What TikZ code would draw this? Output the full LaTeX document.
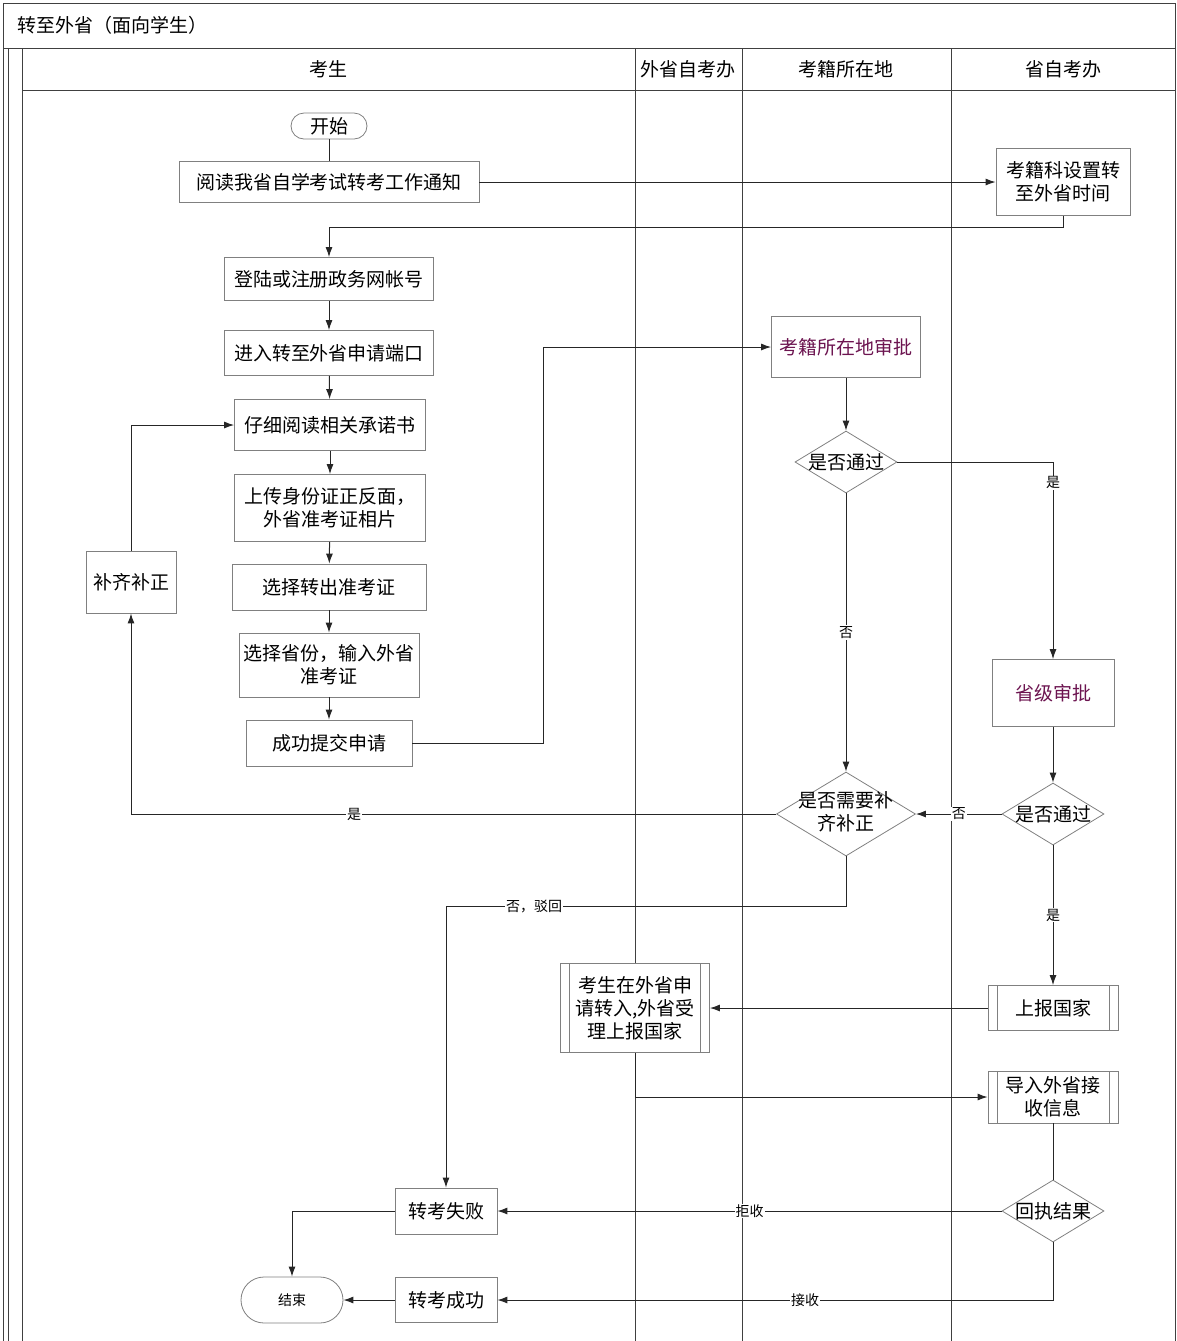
\documentclass[tikz,border=0pt]{standalone}
\usepackage{fontspec}
\setmainfont{Noto Sans CJK SC}
\usepackage{xcolor}
\usepackage{tikz}
\usetikzlibrary{arrows.meta, shapes.geometric}
\definecolor{auditpurple}{RGB}{108,20,80}

\begin{document}
\begin{tikzpicture}[
        x=0.5pt, y=-0.5pt,
        txt/.style={font=\fontsize{9.5pt}{11.5pt}\selectfont},
        cell/.style={draw=black!50, rectangle, align=center, fill=white, inner sep=1pt, txt},
        term/.style={cell, rounded corners=6.5pt},
        predef/.style={cell, path picture={
            \draw[black!50] ([xshift=4.5pt]path picture bounding box.north west) -- ([xshift=4.5pt]path picture bounding box.south west);
            \draw[black!50] ([xshift=-4.5pt]path picture bounding box.north east) -- ([xshift=-4.5pt]path picture bounding box.south east);}},
        decision/.style={diamond, draw=black!50, fill=white, inner sep=0pt, txt},
        lbl/.style={fill=white, inner sep=0.5pt, font=\fontsize{7pt}{8pt}\selectfont},
        pool/.style={draw=black!75, line width=0.5pt},
        line/.style={draw=black!85, line width=0.5pt},
        arrow/.style={line, -{Latex[length=5pt, width=3.5pt]}}
    ]
        \useasboundingbox (0,0) rectangle (1177,1341);

        % pool and lanes
        \draw[pool] (3,1341) -- (3,3) -- (1175,3) -- (1175,1341);
        \draw[pool] (3,48) -- (1175,48);
        \draw[pool] (8,48) -- (8,1341);
        \draw[pool] (22,48) -- (22,1341);
        \draw[pool] (22,90) -- (1175,90);
        \foreach \x in {635,742,951}
            \draw[pool] (\x,48) -- (\x,1341);

        \node[txt, anchor=west] (title) at (10,25) {转至外省（面向学生）};
        \node[txt] (laneStudent) at (328,69) {考生};
        \node[txt] (laneOther) at (688,69) {外省自考办};
        \node[txt] (laneLocal) at (846,69) {考籍所在地};
        \node[txt] (laneProv) at (1063,69) {省自考办};

        % student lane
        \node[term, minimum width=38pt, minimum height=13pt] (start) at (329,126) {开始};
        \node[cell, minimum width=150pt, minimum height=20.5pt] (read) at (329,182) {阅读我省自学考试转考工作通知};
        \node[cell, minimum width=104.5pt, minimum height=21.5pt] (login) at (329,279) {登陆或注册政务网帐号};
        \node[cell, minimum width=104.5pt, minimum height=22.5pt] (enter) at (329,353) {进入转至外省申请端口};
        \node[cell, minimum width=95.5pt, minimum height=25.5pt] (promise) at (330,425) {仔细阅读相关承诺书};
        \node[cell, minimum width=95.5pt, minimum height=33.5pt] (upload) at (330,508) {上传身份证正反面，\\外省准考证相片};
        \node[cell, minimum width=97pt, minimum height=23pt] (choose) at (329,587) {选择转出准考证};
        \node[cell, minimum width=90pt, minimum height=32pt] (province) at (329,665) {选择省份，输入外省\\准考证};
        \node[cell, minimum width=83pt, minimum height=23pt] (submit) at (329,743) {成功提交申请};
        \node[cell, minimum width=45pt, minimum height=31pt] (fix) at (131,582) {补齐补正};
        \node[cell, minimum width=51pt, minimum height=23pt] (fail) at (446,1211) {转考失败};
        \node[cell, minimum width=51pt, minimum height=22.5pt] (success) at (446,1300) {转考成功};
        \node[term, rounded corners=11.5pt, minimum width=51pt, minimum height=23pt, font=\fontsize{7pt}{8pt}\selectfont] (end) at (292,1300) {结束};

        % other province lane
        \node[predef, minimum width=74.5pt, minimum height=44.5pt] (accept) at (635,1008) {考生在外省申\\请转入,外省受\\理上报国家};

        % local lane
        \node[cell, minimum width=74.5pt, minimum height=30.5pt, text=auditpurple] (localAudit) at (846,347) {考籍所在地审批};
        \node[decision, minimum width=51pt, minimum height=31pt] (passLocal) at (846,462) {\makebox[0pt]{是否通过}};
        \node[decision, minimum width=69.5pt, minimum height=42pt] (need) at (846,814) {\makebox[0pt]{\begin{tabular}{@{}c@{}}是否需要补\\齐补正\end{tabular}}};

        % province lane
        \node[cell, minimum width=67pt, minimum height=33.5pt] (setTime) at (1063,182) {考籍科设置转\\至外省时间};
        \node[cell, minimum width=61pt, minimum height=33.5pt, text=auditpurple] (provAudit) at (1053,693) {省级审批};
        \node[decision, minimum width=51pt, minimum height=31pt] (passProv) at (1053,814) {\makebox[0pt]{是否通过}};
        \node[predef, minimum width=65pt, minimum height=22.5pt] (report) at (1053,1008) {上报国家};
        \node[predef, minimum width=65pt, minimum height=26pt] (import) at (1053,1097) {导入外省接\\收信息};
        \node[decision, minimum width=51pt, minimum height=31pt] (receipt) at (1053,1211) {\makebox[0pt]{回执结果}};

        % connectors
        \draw[line] (start) -- (read);
        \draw[arrow] (read) -- (setTime);
        \draw[arrow] (setTime.south) -- ++(0,12) -| (login.north);
        \draw[arrow] (login) -- (enter);
        \draw[arrow] (enter) -- (promise);
        \draw[arrow] (promise) -- (upload);
        \draw[arrow] (upload) -- (choose);
        \draw[arrow] (choose) -- (province);
        \draw[arrow] (province) -- (submit);
        \draw[arrow] (submit.east) -- ++(131,0) |- (localAudit.west);
        \draw[arrow] (fix.north) |- (promise.west);
        \draw[arrow] (localAudit) -- (passLocal);
        \draw[arrow] (passLocal.east) -| node[lbl, pos=0.553] {是} (provAudit.north);
        \draw[arrow] (passLocal.south) -- node[lbl] {否} (need.north);
        \draw[arrow] (provAudit) -- (passProv);
        \draw[arrow] (passProv.west) -- node[lbl] {否} (need.east);
        \draw[arrow] (need.west) -| node[lbl, pos=0.327] {是} (fix.south);
        \draw[arrow] (need.south) -- ++(0,50) -| node[lbl, pos=0.39] {否，驳回} (fail.north);
        \draw[arrow] (passProv.south) -- node[lbl] {是} (report.north);
        \draw[arrow] (report) -- (accept);
        \draw[arrow] (accept.south) |- (import.west);
        \draw[line] (import) -- (receipt);
        \draw[arrow] (receipt.west) -- node[lbl] {拒收} (fail.east);
        \draw[arrow] (receipt.south) |- node[lbl, pos=0.723] {接收} (success.east);
        \draw[arrow] (fail.west) -| (end.north);
        \draw[arrow] (success) -- (end);
    \end{tikzpicture}
\end{document}
